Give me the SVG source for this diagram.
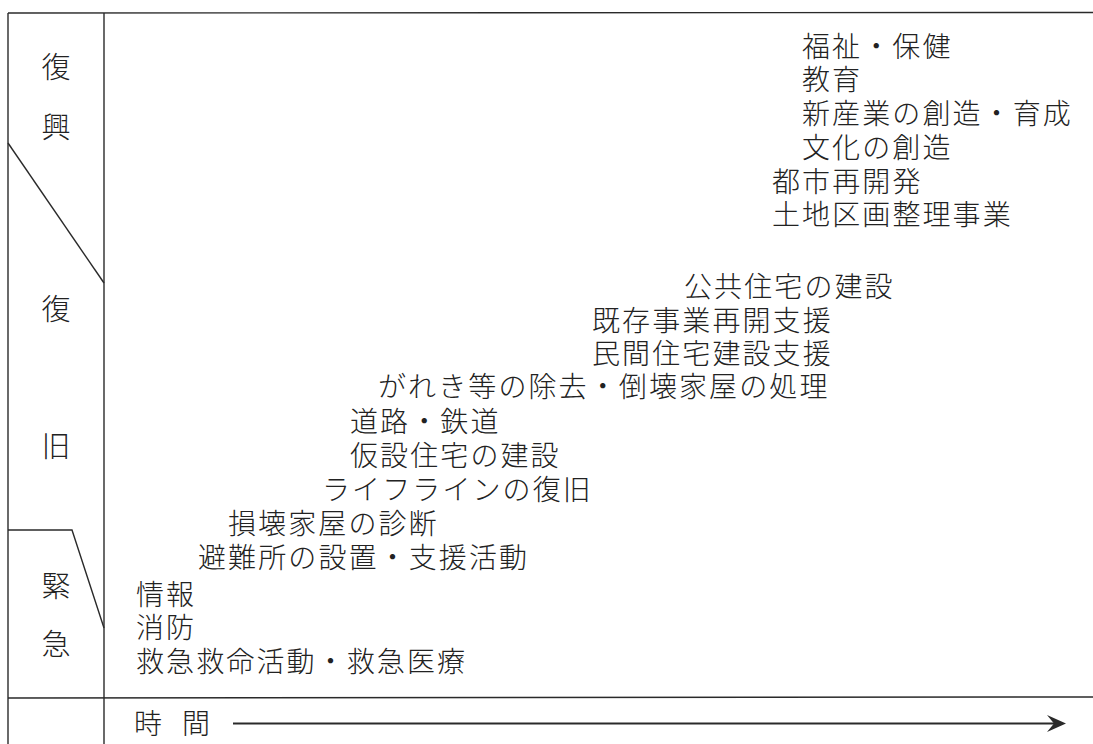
<svg xmlns="http://www.w3.org/2000/svg" width="1093" height="744" viewBox="0 0 1093 744">
<defs>
<style>
.t{font-family:"Noto Sans CJK JP","Noto Sans CJK SC",sans-serif;font-size:28px;font-weight:300;letter-spacing:2.1px;fill:#222222;}
.lbl{font-family:"Noto Sans CJK JP","Noto Sans CJK SC",sans-serif;font-size:29px;font-weight:300;fill:#222222;text-anchor:middle;}
.ln{stroke:#2a2a2a;stroke-width:1.4;fill:none;}
</style>
</defs>
<rect width="1093" height="744" fill="#ffffff"/>
<g id="frame">
<line class="ln" x1="8" y1="13" x2="1093" y2="12.5"/>
<line class="ln" x1="8" y1="13" x2="8" y2="744"/>
<line class="ln" x1="104" y1="13" x2="104" y2="744"/>
<line class="ln" x1="8" y1="698" x2="1093" y2="697"/>
<line class="ln" x1="8" y1="143" x2="104" y2="283"/>
<polyline class="ln" points="8,530 72,530 104,628"/>
</g>
<g id="phase-labels">
<text class="lbl" x="56" y="78">復</text>
<text class="lbl" x="56" y="138">興</text>
<text class="lbl" x="56" y="320">復</text>
<text class="lbl" x="56" y="457">旧</text>
<text class="lbl" x="56" y="597">緊</text>
<text class="lbl" x="56" y="655">急</text>
</g>
<g id="items">
<text class="t" x="802" y="57">福祉・保健</text>
<text class="t" x="802" y="90">教育</text>
<text class="t" x="802" y="124">新産業の創造・育成</text>
<text class="t" x="802" y="158">文化の創造</text>
<text class="t" x="772" y="192">都市再開発</text>
<text class="t" x="772" y="225">土地区画整理事業</text>
<text class="t" x="684" y="297">公共住宅の建設</text>
<text class="t" x="592" y="331">既存事業再開支援</text>
<text class="t" x="592" y="364">民間住宅建設支援</text>
<text class="t" x="378" y="397">がれき等の除去・倒壊家屋の処理</text>
<text class="t" x="350" y="432">道路・鉄道</text>
<text class="t" x="350" y="466">仮設住宅の建設</text>
<text class="t" x="322" y="500">ライフラインの復旧</text>
<text class="t" x="228" y="534">損壊家屋の診断</text>
<text class="t" x="198" y="568">避難所の設置・支援活動</text>
<text class="t" x="136" y="605">情報</text>
<text class="t" x="136" y="638">消防</text>
<text class="t" x="136" y="672">救急救命活動・救急医療</text>
</g>
<g id="time-axis">
<text class="t" x="134" y="734" style="letter-spacing:20px">時間</text>
</g>
<g id="connectors">
<line x1="233" y1="723.5" x2="1058" y2="723.5" stroke="#2a2a2a" stroke-width="2.2"/>
<path d="M1047,715 L1066,723.5 L1047,732 L1054,723.5 Z" fill="#2a2a2a"/>
</g>
</svg>
